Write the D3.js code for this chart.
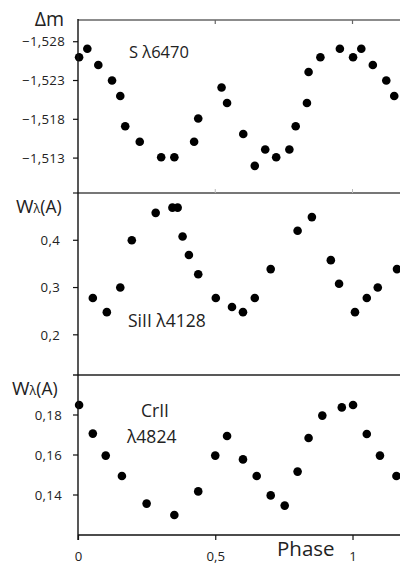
<!DOCTYPE html>
<html>
<head>
<meta charset="utf-8">
<script src="https://cdn.jsdelivr.net/npm/d3@7"></script>
<style>
  html, body { margin: 0; padding: 0; background: #fff; }
  svg { display: block; }
  text { font-family: "Open Sans", "Noto Sans", sans-serif; fill: #222; }
</style>
</head>
<body>
<svg id="chart" width="400" height="564"></svg>
<script>
// Phase-folded light curve (S λ6470) and equivalent widths of SiII λ4128 and CrII λ4824
const phaseS = [0.004, 0.034, 0.074, 0.124, 0.154, 0.172, 0.225, 0.303, 0.351, 0.423, 0.438,
  0.523, 0.543, 0.602, 0.644, 0.682, 0.722, 0.770, 0.793, 0.834, 0.840, 0.883, 0.954,
  1.002, 1.032, 1.074, 1.123, 1.152];
const deltaM = [-1.5260, -1.5271, -1.5250, -1.5230, -1.5210, -1.5171, -1.5151, -1.5131, -1.5131,
  -1.5151, -1.5181, -1.5221, -1.5201, -1.5161, -1.5120, -1.5141, -1.5131, -1.5141, -1.5171,
  -1.5201, -1.5241, -1.5260, -1.5271, -1.5260, -1.5271, -1.5250, -1.5230, -1.5210];

const phaseSi = [0.054, 0.105, 0.154, 0.196, 0.283, 0.344, 0.363, 0.381, 0.404, 0.438, 0.502,
  0.561, 0.601, 0.644, 0.702, 0.800, 0.852, 0.921, 0.951, 1.009, 1.052, 1.092, 1.162];
const wSi = [0.278, 0.248, 0.300, 0.400, 0.458, 0.469, 0.469, 0.408, 0.369, 0.328, 0.278,
  0.259, 0.248, 0.278, 0.339, 0.420, 0.449, 0.358, 0.308, 0.248, 0.278, 0.300, 0.339];

const phaseCr = [0.004, 0.054, 0.101, 0.160, 0.250, 0.351, 0.438, 0.500, 0.543, 0.601, 0.651,
  0.702, 0.753, 0.800, 0.840, 0.890, 0.961, 1.002, 1.052, 1.100, 1.160];
const wCr = [0.185, 0.1707, 0.1597, 0.1495, 0.1357, 0.130, 0.1418, 0.1597, 0.1695, 0.1578, 0.1495,
  0.1398, 0.1347, 0.1517, 0.1685, 0.1797, 0.1838, 0.185, 0.1705, 0.1597, 0.1495];

const ticksS = [-1.528, -1.523, -1.518, -1.513];
const ticksSi = [0.2, 0.3, 0.4];
const ticksCr = [0.14, 0.16, 0.18];
const ticksPhase = [0, 0.5, 1];

const locale = d3.formatLocale({ decimal: ",", thousands: ".", grouping: [3], currency: ["", ""] });

const svg = d3.select("#chart");
const x0 = 78, x1 = 400;
const x = d3.scaleLinear().domain([0, 1.173]).range([x0, x1]);

const panels = [
  { px: phaseS, py: deltaM, domain: [-1.5308, -1.5085], range: [20, 193], ticks: ticksS,
    fmt: locale.format(".3f"), labelX: 65 },
  { px: phaseSi, py: wSi, domain: [0.5, 0.115], range: [193, 375], ticks: ticksSi,
    fmt: locale.format(".1f"), labelX: 60 },
  { px: phaseCr, py: wCr, domain: [0.2, 0.12], range: [375, 535], ticks: ticksCr,
    fmt: locale.format(".2f"), labelX: 62 }
];

panels.forEach(p => {
  const y = d3.scaleLinear().domain(p.domain).range(p.range);
  const g = svg.append("g");
  // y tick marks and labels
  p.ticks.forEach(t => {
    g.append("line").attr("x1", x0 - 5).attr("x2", x0).attr("y1", y(t)).attr("y2", y(t))
      .attr("stroke", "#111").attr("stroke-width", 1.2);
    g.append("text").attr("x", p.labelX).attr("y", y(t)).attr("dy", "0.36em")
      .attr("text-anchor", "end").attr("font-size", 13.2).attr("letter-spacing", 0.3)
      .text(p.fmt(t));
  });
  // points
  g.selectAll("circle").data(p.px.map((v, i) => [v, p.py[i]])).join("circle")
    .attr("cx", d => x(d[0])).attr("cy", d => y(d[1])).attr("r", 4.3).attr("fill", "#000");
});

// frame lines
svg.append("line").attr("x1", x0).attr("x2", x1).attr("y1", 20).attr("y2", 20)
  .attr("stroke", "#666").attr("stroke-width", 1.5);
svg.append("line").attr("x1", x0 - 5).attr("x2", x1).attr("y1", 193).attr("y2", 193)
  .attr("stroke", "#777").attr("stroke-width", 2);
svg.append("line").attr("x1", x0 - 5).attr("x2", x1).attr("y1", 375).attr("y2", 375)
  .attr("stroke", "#222").attr("stroke-width", 1.6);
svg.append("line").attr("x1", x0).attr("x2", x1).attr("y1", 535).attr("y2", 535)
  .attr("stroke", "#111").attr("stroke-width", 1.5);
svg.append("line").attr("x1", x0).attr("x2", x0).attr("y1", 19).attr("y2", 540)
  .attr("stroke", "#111").attr("stroke-width", 1.4);

// phase ticks on top frame (down), top panel bottom (up), and x axis (down)
[0.5, 1].forEach(t => {
  svg.append("line").attr("x1", x(t)).attr("x2", x(t)).attr("y1", 20).attr("y2", 24)
    .attr("stroke", "#666").attr("stroke-width", 1.2);
  svg.append("line").attr("x1", x(t)).attr("x2", x(t)).attr("y1", 189).attr("y2", 193)
    .attr("stroke", "#bbb").attr("stroke-width", 1);
});
const xAxis = d3.axisBottom(x).tickValues(ticksPhase).tickSize(5).tickFormat(locale.format("~g"));
const xg = svg.append("g").attr("transform", "translate(0,535)").call(xAxis);
xg.select(".domain").remove();
xg.selectAll(".tick line").attr("stroke", "#111").attr("stroke-width", 1.2);
xg.selectAll(".tick text").attr("font-size", 13.2).attr("y", 17).attr("fill", "#222")
  .attr("font-family", "Open Sans, Noto Sans, sans-serif");

// axis titles
svg.append("text").attr("x", 64).attr("y", 26).attr("text-anchor", "end")
  .attr("font-size", 19.5).text("Δm");

function wLabel(xp, yp) {
  const t = svg.append("text").attr("x", xp).attr("y", yp);
  t.append("tspan").attr("font-size", 19).text("W");
  t.append("tspan").attr("font-size", 12.5).text("λ");
  t.append("tspan").attr("font-size", 17.5).text("(A)");
}
wLabel(16, 213);
wLabel(12, 395);

svg.append("text").attr("x", 277).attr("y", 556).attr("font-size", 20.5).text("Phase");

// line identifications
svg.append("text").attr("x", 129).attr("y", 58).attr("font-size", 16.5).attr("fill", "#333").text("S λ6470");
svg.append("text").attr("x", 128).attr("y", 327).attr("font-size", 17.5).attr("fill", "#333").text("SiII λ4128");
svg.append("text").attr("x", 141).attr("y", 417).attr("font-size", 17.5).attr("fill", "#333").text("CrII");
svg.append("text").attr("x", 127).attr("y", 443).attr("font-size", 17.5).attr("fill", "#333").text("λ4824");
</script>
</body>
</html>
